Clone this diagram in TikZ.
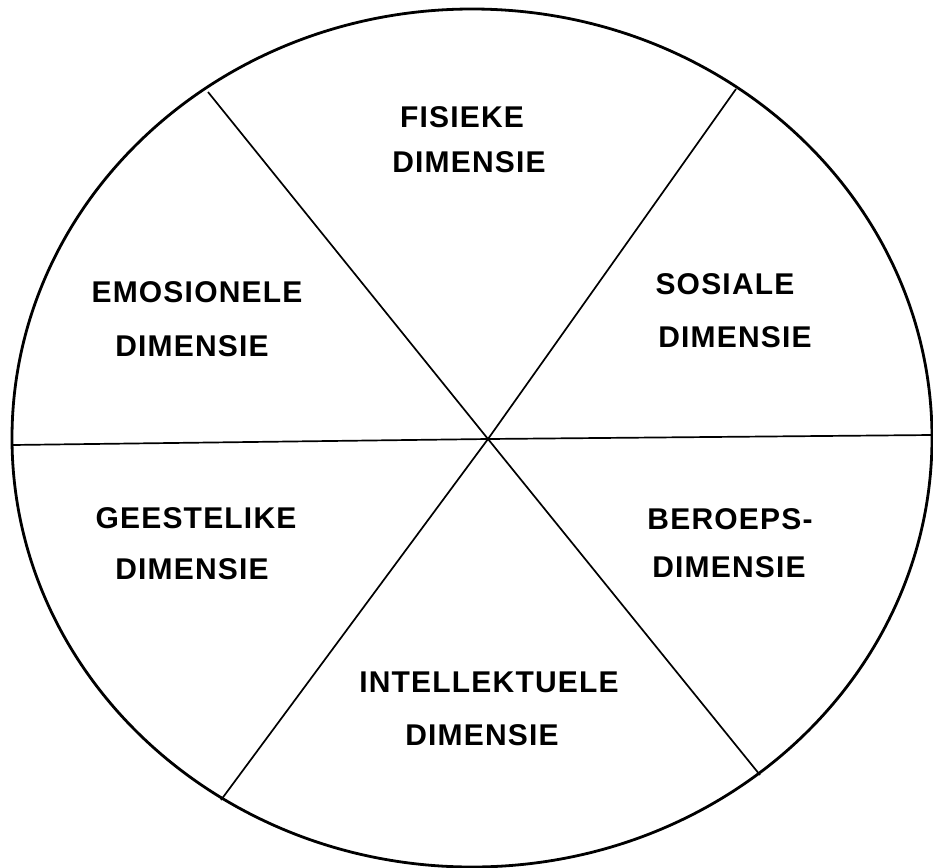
\documentclass[tikz,border=0pt]{standalone}
\usepackage{fontspec}
\setmainfont{Liberation Sans}[LetterSpace=4]
\begin{document}
\begin{tikzpicture}[x=1pt,y=-1pt,
  rim/.style={line width=2.8pt},
  divider/.style={line width=1.7pt},
  lbl/.style={inner sep=0pt,font=\fontsize{30}{32}\selectfont\bfseries}]
\useasboundingbox (0,0) rectangle (933,867);
% geometry
\coordinate (c) at (488,439);
\coordinate (ul) at (208,92);
\coordinate (lr) at (760,775);
\coordinate (ur) at (736,89);
\coordinate (ll) at (221,800);
\coordinate (l) at (12,445);
\coordinate (r) at (932,435);
\draw[rim] (472,438) ellipse [x radius=460, y radius=429];
\draw[divider] (ul) -- (c) -- (lr);
\draw[divider] (ur) -- (c) -- (ll);
\draw[divider] (l) -- (c) -- (r);
% labels
\node[lbl] (fis1) at (462,117) {FISIEKE};
\node[lbl] (fis2) at (469,162) {DIMENSIE};
\node[lbl] (emo1) at (197,292) {EMOSIONELE};
\node[lbl] (emo2) at (192,346) {DIMENSIE};
\node[lbl] (sos1) at (725,284) {SOSIALE};
\node[lbl] (sos2) at (735,337) {DIMENSIE};
\node[lbl] (gee1) at (196,518) {GEESTELIKE};
\node[lbl] (gee2) at (192,569) {DIMENSIE};
\node[lbl] (ber1) at (730,519) {BEROEPS-};
\node[lbl] (ber2) at (729,567) {DIMENSIE};
\node[lbl] (int1) at (489,682) {INTELLEKTUELE};
\node[lbl] (int2) at (482,735) {DIMENSIE};
\end{tikzpicture}
\end{document}
